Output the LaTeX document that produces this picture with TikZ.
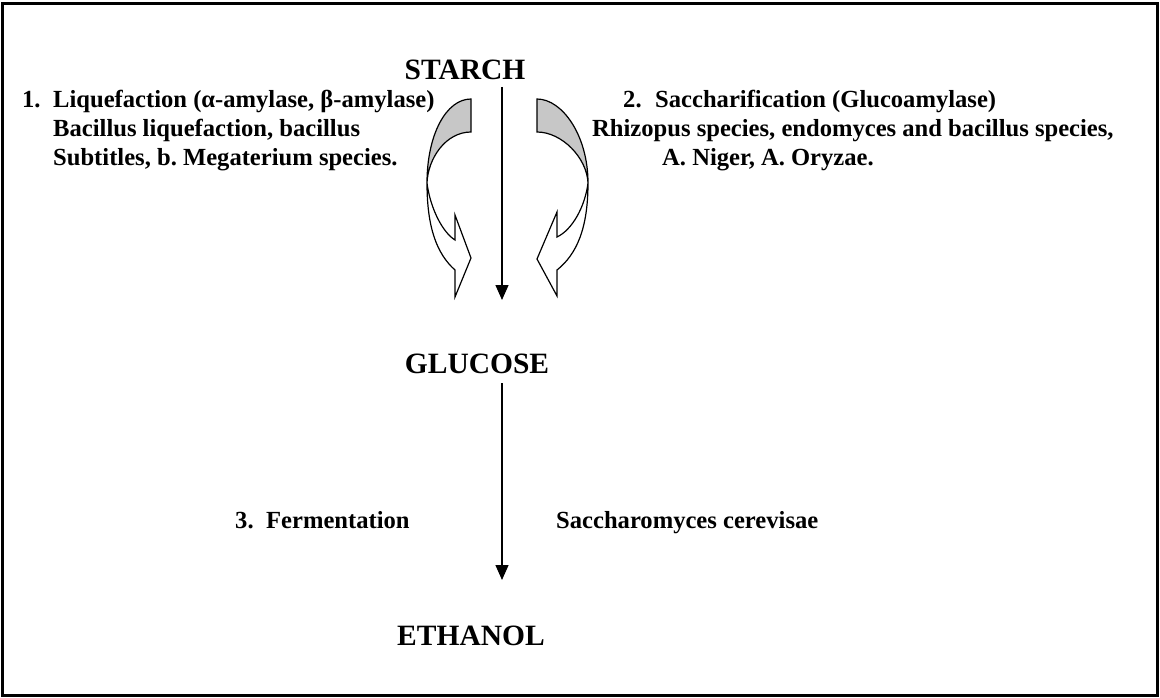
\documentclass[tikz,border=0pt]{standalone}
\usepackage{fontspec}
\setmainfont{Liberation Serif}
\usetikzlibrary{arrows.meta}
\frenchspacing
\begin{document}
\begin{tikzpicture}[x=1pt,y=-1pt,
  lab/.style={font=\fontsize{24.6}{29}\selectfont\bfseries, inner sep=0pt, anchor=base west},
  ttl/.style={font=\fontsize{29.5}{34}\selectfont\bfseries, inner sep=0pt, anchor=base},
  flow/.style={-{Triangle[length=15pt,width=13pt]}, line width=1.3pt},
  back/.style={fill=black!22, draw=black, line width=1.2pt},
  front/.style={fill=white, draw=black, line width=1.2pt, line join=miter}]
\useasboundingbox (0,0) rectangle (1160,698);
\draw[line width=3pt] (2.5,4) rectangle (1157,695.5);

% titles
\node[ttl] (starch) at (465,80) {STARCH};
\node[ttl] (glucose) at (477,373) {GLUCOSE};
\node[ttl] (ethanol) at (471,645) {ETHANOL};

% main arrows
\coordinate (s1) at (502,87);
\coordinate (s2) at (502,300);
\coordinate (g1) at (502,383);
\coordinate (g2) at (502,580);
\draw[flow] (s1) -- (s2);
\draw[flow] (g1) -- (g2);

% left labels
\node[lab] (n1) at (22,108) {1.};
\node[lab] (l1) at (53,108) {Liquefaction (α-amylase, β-amylase)};
\node[lab] (l2) at (53,137) {Bacillus liquefaction, bacillus};
\node[lab] (l3) at (53,166) {Subtitles, b. Megaterium species.};
% right labels
\node[lab] (n2) at (623,108) {2.};
\node[lab] (r1) at (655,108) {Saccharification (Glucoamylase)};
\node[lab] (r2) at (592,137) {Rhizopus species, endomyces and bacillus species,};
\node[lab] (r3) at (662,166) {A. Niger, A. Oryzae.};
% fermentation
\node[lab] (n3) at (235,528) {3.};
\node[lab] (f1) at (266,528) {Fermentation};
\node[lab] (f2) at (556,528) {Saccharomyces cerevisae};

% left curved arrow
\draw[back] (471,99) .. controls (446,99) and (427,135) .. (427,183)
  .. controls (428,158) and (446,132) .. (471,132) -- cycle;
\draw[front] (427,183) .. controls (427,228) and (437,254) .. (455,270)
  -- (455,297) -- (471,258) -- (455,215) -- (455,240)
  .. controls (442,232) and (430,207) .. (427,183) -- cycle;

% right curved arrow
\draw[back] (537,99) .. controls (562,99) and (588,135) .. (588,183)
  .. controls (587,158) and (562,132) .. (537,132) -- cycle;
\draw[front] (588,183) .. controls (588,228) and (577,254) .. (557,270)
  -- (557,296) -- (537,259) -- (557,212) -- (557,237)
  .. controls (572,230) and (585,207) .. (588,183) -- cycle;
\end{tikzpicture}
\end{document}
